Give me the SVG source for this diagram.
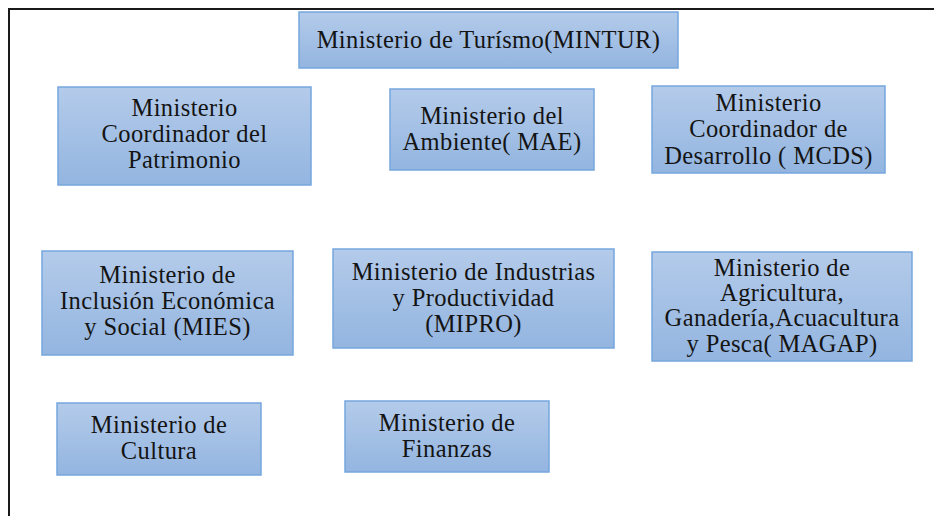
<svg xmlns="http://www.w3.org/2000/svg" width="934" height="516" viewBox="0 0 934 516">
<defs>
<linearGradient id="g" x1="0" y1="0" x2="0" y2="1">
<stop offset="0" stop-color="#b4cbea"/>
<stop offset="1" stop-color="#93b5e0"/>
</linearGradient>
<style>
.box{fill:url(#g);stroke:#76a6de;stroke-width:1.5}
text{font-family:'Liberation Serif','Times New Roman',serif;font-size:24.5px;letter-spacing:0.4px;fill:#141414;text-anchor:middle}
.frame{stroke:#1a1a1a;stroke-width:2;fill:none}
</style>
</defs>
<rect width="934" height="516" fill="#ffffff"/>
<path class="frame" d="M9,516 V9 H934"/>
<g id="connectors"></g>
<g id="mintur">
<rect class="box" x="299" y="12" width="379" height="56"/>
<text x="488.5" y="48">Ministerio de Turísmo(MINTUR)</text>
</g>
<g id="patrimonio">
<rect class="box" x="58" y="87" width="253" height="98"/>
<text x="184.5" y="116">Ministerio</text>
<text x="184.5" y="142">Coordinador del</text>
<text x="184.5" y="168">Patrimonio</text>
</g>
<g id="mae">
<rect class="box" x="390" y="89" width="204" height="81"/>
<text x="492" y="124">Ministerio del</text>
<text x="492" y="150">Ambiente( MAE)</text>
</g>
<g id="mcds">
<rect class="box" x="652" y="86" width="233" height="87"/>
<text x="768.5" y="111">Ministerio</text>
<text x="768.5" y="137">Coordinador de</text>
<text x="768.5" y="164">Desarrollo ( MCDS)</text>
</g>
<g id="mies">
<rect class="box" x="42" y="251" width="251" height="104"/>
<text x="167.5" y="283">Ministerio de</text>
<text x="167.5" y="309">Inclusión Económica</text>
<text x="167.5" y="335">y Social (MIES)</text>
</g>
<g id="mipro">
<rect class="box" x="333" y="249" width="281" height="99"/>
<text x="473.5" y="280">Ministerio de Industrias</text>
<text x="473.5" y="306">y Productividad</text>
<text x="473.5" y="332">(MIPRO)</text>
</g>
<g id="magap">
<rect class="box" x="652" y="252" width="260" height="109"/>
<text x="782" y="276">Ministerio de</text>
<text x="782" y="301">Agricultura,</text>
<text x="782" y="326">Ganadería,Acuacultura</text>
<text x="782" y="352">y Pesca( MAGAP)</text>
</g>
<g id="cultura">
<rect class="box" x="57" y="403" width="204" height="72"/>
<text x="159" y="433">Ministerio de</text>
<text x="159" y="459">Cultura</text>
</g>
<g id="finanzas">
<rect class="box" x="345" y="401" width="204" height="71"/>
<text x="447" y="431">Ministerio de</text>
<text x="447" y="457">Finanzas</text>
</g>
</svg>
